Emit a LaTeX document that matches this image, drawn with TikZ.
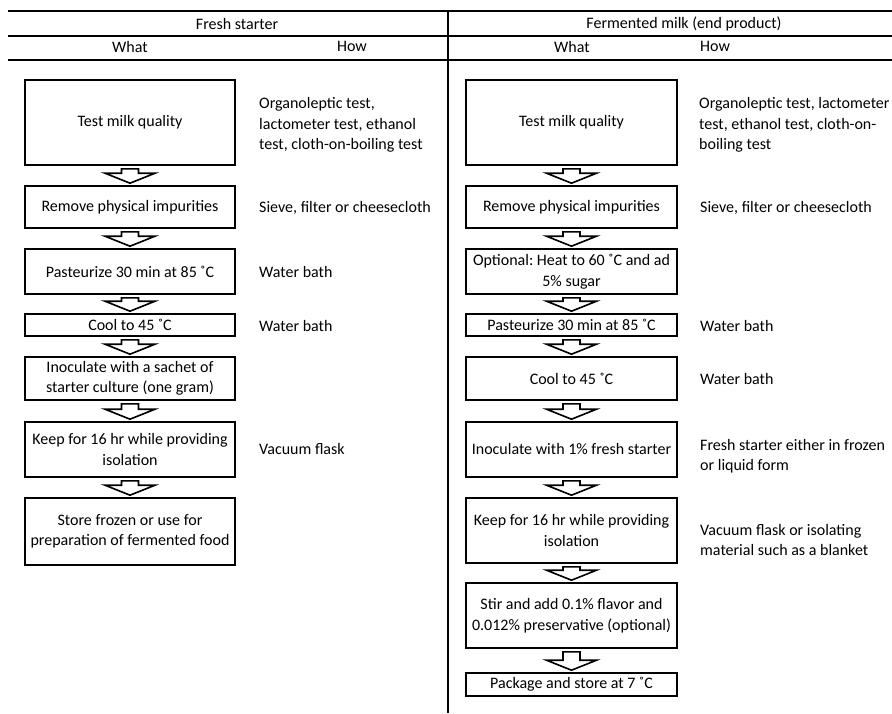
\documentclass[tikz,border=0pt]{standalone}
\usepackage{fontspec}
\setmainfont{Carlito}
\usetikzlibrary{calc}
\frenchspacing
\tikzset{
  stepbox/.style={draw=black, line width=1.6pt, align=center, inner sep=1pt,
    font=\fontsize{16}{20.5}\selectfont},
  lbox/.style={stepbox, minimum width=210pt},
  rbox/.style={stepbox, minimum width=211pt},
  note/.style={anchor=west, align=left, inner sep=0pt, font=\fontsize{16}{20.5}\selectfont},
  head/.style={inner sep=0pt, font=\fontsize{16}{19}\selectfont},
  rule/.style={line width=1.6pt, black},
  blockarr/.style={draw=black, fill=white, line width=1.6pt, line join=miter}
}
\newcommand\darrow[2]{%
  \draw[blockarr] ($(#1.south)+(-8.5,3)$) -- ($(#1.south)+(8.5,3)$)
    -- ($(#2.north)+(8.5,-12)$) -- ($(#2.north)+(25,-12)$)
    -- ($(#2.north)+(0,-2)$) -- ($(#2.north)+(-25,-12)$)
    -- ($(#2.north)+(-8.5,-12)$) -- cycle;}
\begin{document}
\begin{tikzpicture}[x=1pt,y=-1pt]
\useasboundingbox (0,0) rectangle (892,713);
% header rules
\coordinate (hl1) at (8,11); \coordinate (hr1) at (892,11);
\coordinate (hl2) at (8,36); \coordinate (hr2) at (892,36);
\coordinate (hl3) at (8,60); \coordinate (hr3) at (892,60);
\coordinate (vt) at (448,11); \coordinate (vb) at (448,713);
\draw[rule] (hl1) -- (hr1);
\draw[rule] (hl2) -- (hr2);
\draw[rule] (hl3) -- (hr3);
\draw[rule] (vt) -- (vb);
% header texts
\node[head] (hfs) at (237,24) {Fresh starter};
\node[head] (hwl) at (130,47) {What};
\node[head] (hhl) at (352,46) {How};
\node[head] (hfm) at (684,24) {Fermented milk (end product)};
\node[head] (hwr) at (572,47) {What};
\node[head,anchor=west] (hhr) at (700,46) {How};
% left column
\node[lbox, minimum height=85pt] (L1) at (130,122.5) {Test milk quality};
\node[lbox, minimum height=42pt] (L2) at (130,207) {Remove physical impurities};
\node[lbox, minimum height=45pt] (L3) at (130,271.5) {Pasteurize 30 min at 85 ˚C};
\node[lbox, minimum height=22pt] (L4) at (130,325) {Cool to 45 ˚C};
\node[lbox, minimum height=43pt] (L5) at (130,378.5) {Inoculate with a sachet of\\starter culture (one gram)};
\node[lbox, minimum height=55pt] (L6) at (130,449.5) {Keep for 16 hr while providing\\isolation};
\node[lbox, minimum height=67pt] (L7) at (130,531.5) {Store frozen or use for\\preparation of fermented food};
\darrow{L1}{L2}\darrow{L2}{L3}\darrow{L3}{L4}\darrow{L4}{L5}\darrow{L5}{L6}\darrow{L6}{L7}
\node[note] (n1) at (259,125) {Organoleptic test,\\lactometer test, ethanol\\test, cloth-on-boiling test};
\node[note] (n2) at (259,208) {Sieve, filter or cheesecloth};
\node[note] (n3) at (259,272) {Water bath};
\node[note] (n4) at (259,326) {Water bath};
\node[note] (n6) at (259,449) {Vacuum flask};
% right column
\node[rbox, minimum height=85pt] (R1) at (571.5,122.5) {Test milk quality};
\node[rbox, minimum height=42pt] (R2) at (571.5,207) {Remove physical impurities};
\node[rbox, minimum height=45pt] (R3) at (571.5,271.5) {Optional: Heat to 60 ˚C and ad\\5\% sugar};
\node[rbox, minimum height=22pt] (R4) at (571.5,325) {Pasteurize 30 min at 85 ˚C};
\node[rbox, minimum height=43pt] (R5) at (571.5,378.5) {Cool to 45 ˚C};
\node[rbox, minimum height=55pt] (R6) at (571.5,449.5) {Inoculate with 1\% fresh starter};
\node[rbox, minimum height=65pt] (R7) at (571.5,530.5) {Keep for 16 hr while providing\\isolation};
\node[rbox, minimum height=65pt] (R8) at (571.5,615.5) {Stir and add 0.1\% flavor and\\0.012\% preservative (optional)};
\node[rbox, minimum height=23pt] (R9) at (571.5,684.5) {Package and store at 7 ˚C};
\darrow{R1}{R2}\darrow{R2}{R3}\darrow{R3}{R4}\darrow{R4}{R5}\darrow{R5}{R6}\darrow{R6}{R7}\darrow{R7}{R8}\darrow{R8}{R9}
\node[note] (m1) at (699,125) {Organoleptic test, lactometer\\test, ethanol test, cloth-on-\\boiling test};
\node[note] (m2) at (700,208) {Sieve, filter or cheesecloth};
\node[note] (m4) at (700,326) {Water bath};
\node[note] (m5) at (700,379) {Water bath};
\node[note] (m6) at (700,456) {Fresh starter either in frozen\\or liquid form};
\node[note] (m7) at (700,540) {Vacuum flask or isolating\\material such as a blanket};
\end{tikzpicture}
\end{document}
